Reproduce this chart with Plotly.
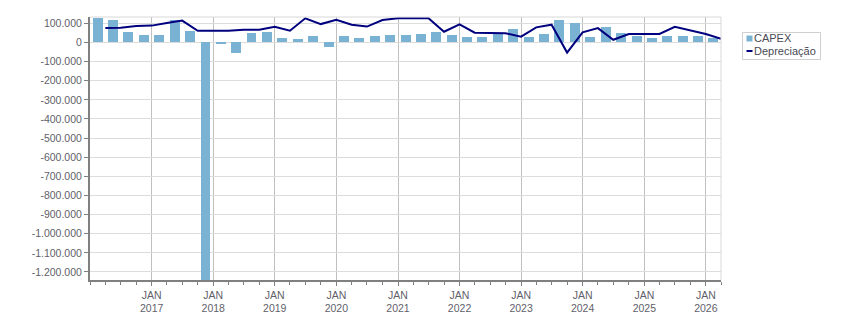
import plotly.graph_objects as go

quarters = [
    "2016-01-01", "2016-04-01", "2016-07-01", "2016-10-01",
    "2017-01-01", "2017-04-01", "2017-07-01", "2017-10-01",
    "2018-01-01", "2018-04-01", "2018-07-01", "2018-10-01",
    "2019-01-01", "2019-04-01", "2019-07-01", "2019-10-01",
    "2020-01-01", "2020-04-01", "2020-07-01", "2020-10-01",
    "2021-01-01", "2021-04-01", "2021-07-01", "2021-10-01",
    "2022-01-01", "2022-04-01", "2022-07-01", "2022-10-01",
    "2023-01-01", "2023-04-01", "2023-07-01", "2023-10-01",
    "2024-01-01", "2024-04-01", "2024-07-01", "2024-10-01",
    "2025-01-01", "2025-04-01", "2025-07-01", "2025-10-01",
    "2026-01-01",
]

capex = [
    128000, 117000, 54000, 38000,
    38000, 115000, 61000, -1250000,
    -3000, -56000, 49000, 54000,
    23000, 17000, 33000, -25000,
    33000, 23000, 33000, 38000,
    38000, 44000, 54000, 38000,
    28000, 28000, 44000, 70000,
    28000, 44000, 117000, 102000,
    28000, 80000, 49000, 33000,
    23000, 33000, 33000, 33000,
    23000,
]

depreciacao = [
    75000, 77000, 86000, 88000,
    102000, 114000, 61000, 61000,
    61000, 66000, 66000, 82000,
    61000, 126000, 96000, 119000,
    93000, 83000, 117000, 127000,
    127000, 127000, 56000, 95000,
    51000, 51000, 48000, 30000,
    79000, 93000, -53000, 53000,
    75000, 14000, 44000, 44000,
    44000, 82000, 61000, 44000,
    19000,
]

series_names = ["CAPEX", "Depreciação"]
series_colors = ["#7ab2d4", "#00007f"]

year_ticks = ["2017-01-01", "2018-01-01", "2019-01-01", "2020-01-01", "2021-01-01",
              "2022-01-01", "2023-01-01", "2024-01-01", "2025-01-01", "2026-01-01"]
year_labels = ["JAN<br>2017", "JAN<br>2018", "JAN<br>2019", "JAN<br>2020", "JAN<br>2021",
               "JAN<br>2022", "JAN<br>2023", "JAN<br>2024", "JAN<br>2025", "JAN<br>2026"]

y_ticks = [100000, 0, -100000, -200000, -300000, -400000, -500000, -600000, -700000,
           -800000, -900000, -1000000, -1100000, -1200000]
y_labels = [f"{v:,}".replace(",", ".") for v in y_ticks]

FONT = "'Liberation Sans', Arial, sans-serif"
TICK_COLOR = "#5f5f6a"

# plot area in pixels
PL, PR, PT, PB = 90, 721, 17, 280
W, H = 851, 313


def px(xp):
    return (xp - PL) / (PR - PL)


def py(yp):
    return (PB - yp) / (PB - PT)


bar_width_ms = 59 * 24 * 3600 * 1000

fig = go.Figure()
fig.add_trace(go.Bar(
    x=quarters, y=capex, name=series_names[0],
    xperiod="M3", xperiodalignment="middle",
    width=bar_width_ms,
    marker=dict(color=series_colors[0], line=dict(width=0)),
    showlegend=False,
))
fig.add_trace(go.Scatter(
    x=quarters, y=depreciacao, name=series_names[1],
    xperiod="M3", xperiodalignment="end",
    mode="lines", line=dict(color=series_colors[1], width=2),
    showlegend=False,
))

# compact legend (box, swatches, labels)
shapes = [
    dict(type="line", xref="paper", yref="paper", x0=0, x1=1, y0=1, y1=1,
         line=dict(color="#d8d8d8", width=1)),
    dict(type="line", xref="paper", yref="paper", x0=1, x1=1, y0=0, y1=1,
         line=dict(color="#d8d8d8", width=1)),
    dict(type="rect", xref="paper", yref="paper",
         x0=px(742.5), x1=px(820.5), y0=py(59.5), y1=py(32.5),
         line=dict(color="#cfcfcf", width=1), fillcolor="white"),
    dict(type="rect", xref="paper", yref="paper",
         x0=px(746.5), x1=px(752.5), y0=py(41.5), y1=py(35.5),
         line=dict(width=0), fillcolor=series_colors[0]),
    dict(type="line", xref="paper", yref="paper",
         x0=px(746.5), x1=px(752.5), y0=py(51), y1=py(51),
         line=dict(color=series_colors[1], width=2)),
]
annotations = [
    dict(xref="paper", yref="paper", x=px(752), y=py(38.5), text=series_names[0],
         xanchor="left", yanchor="middle", showarrow=False,
         font=dict(family=FONT, size=11, color="#4a4a55")),
    dict(xref="paper", yref="paper", x=px(752), y=py(51.5), text=series_names[1],
         xanchor="left", yanchor="middle", showarrow=False,
         font=dict(family=FONT, size=11, color="#4a4a55")),
]

fig.update_layout(
    width=W, height=H,
    margin=dict(l=PL, r=W - PR, t=PT, b=H - PB),
    plot_bgcolor="white", paper_bgcolor="white",
    font=dict(family=FONT, size=10.5, color=TICK_COLOR),
    showlegend=False,
    bargap=0,
    shapes=shapes,
    annotations=annotations,
)

fig.update_xaxes(
    type="date",
    range=["2016-01-01", "2026-04-01"],
    tickmode="array", tickvals=year_ticks, ticktext=year_labels,
    ticks="outside", ticklen=4, tickcolor="#808080", tickwidth=1,
    showgrid=True, gridcolor="#c0c0c0", gridwidth=1,
    showline=True, linecolor="#808080", linewidth=2,
    minor=dict(ticks="outside", ticklen=3, tickcolor="#808080", tickwidth=1,
               tickmode="linear", tick0="2016-01-01", dtick="M3", showgrid=False),
    tickfont=dict(family=FONT, size=10.5, color=TICK_COLOR),
    zeroline=False, automargin=False,
)

fig.update_yaxes(
    range=[-1242000, 133000],
    tickmode="array", tickvals=y_ticks, ticktext=y_labels,
    ticks="outside", ticklen=4, tickcolor="#808080", tickwidth=1,
    showgrid=True, gridcolor="#dcdcdc", gridwidth=1,
    showline=True, linecolor="#808080", linewidth=2,
    zeroline=False, automargin=False,
    tickfont=dict(family=FONT, size=10.5, color=TICK_COLOR),
)

fig.write_html("out.html")
